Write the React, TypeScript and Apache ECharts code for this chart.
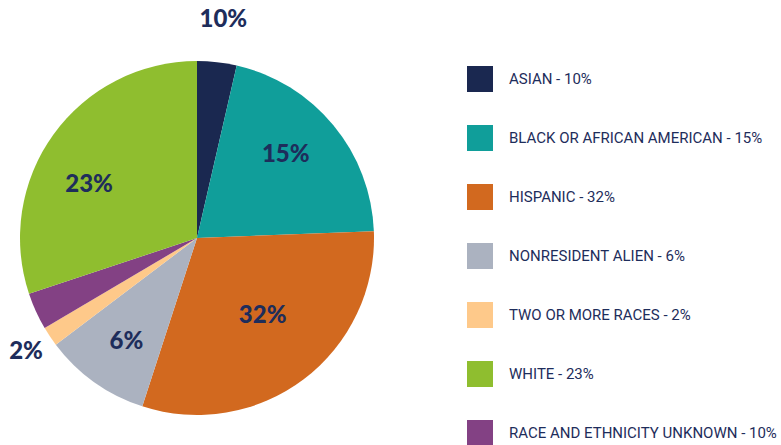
import React, { useEffect, useRef } from "react";
import * as echarts from "echarts";

// Slices in clockwise order from 12 o'clock
const categories = [
  "ASIAN",
  "BLACK OR AFRICAN AMERICAN",
  "HISPANIC",
  "NONRESIDENT ALIEN",
  "TWO OR MORE RACES",
  "RACE AND ETHNICITY UNKNOWN",
  "WHITE",
];
// Visual share of each slice
const sliceShares = [3.6, 20.8, 30.6, 9.7, 1.8, 3.4, 30.1];
// Percentages printed on the chart
const reportedPct = [10, 15, 32, 6, 2, 10, 23];
const sliceColors = ["#1a2850", "#109e9a", "#d2691f", "#abb2c0", "#fec98a", "#834184", "#8fbe2f"];
// Legend order
const legendOrder = [
  "ASIAN",
  "BLACK OR AFRICAN AMERICAN",
  "HISPANIC",
  "NONRESIDENT ALIEN",
  "TWO OR MORE RACES",
  "WHITE",
  "RACE AND ETHNICITY UNKNOWN",
];

const NAVY = "#1e2d5b";
const CX = 197;
const CY = 238;
const R = 177;

// small label nudges (style only)
const nudges: Record<string, [number, number]> = {
  "WHITE": [-5, 19],
  "BLACK OR AFRICAN AMERICAN": [-9, -5],
  "HISPANIC": [3, -7],
  "TWO OR MORE RACES": [8, -8],
  "ASIAN": [2, -6],
  "NONRESIDENT ALIEN": [3, -2],
};

export default function App() {
  const ref = useRef<HTMLDivElement>(null);

  useEffect(() => {
    document.body.style.margin = "0";
    if (!ref.current) return;
    const chart = echarts.init(ref.current, null, { renderer: "svg" });

    const pctOf = (name: string) => reportedPct[categories.indexOf(name)];

    const labelOverlay = (factor: number, shown: string[]) => ({
      type: "pie",
      silent: true,
      center: [CX, CY],
      radius: [0, R * factor * 2],
      startAngle: 90,
      clockwise: true,
      legendHoverLink: false,
      itemStyle: { color: "rgba(0,0,0,0)", borderWidth: 0 },
      labelLine: { show: false },
      emphasis: { disabled: true },
      data: categories.map((c, i) => ({
        name: c,
        value: sliceShares[i],
        label: { show: shown.includes(c) },
      })),
      label: {
        position: "inside",
        formatter: (p: any) => pctOf(p.name) + "%",
        color: NAVY,
        fontFamily: "Lato",
        fontWeight: 900,
        fontSize: 24,
      },
      labelLayout: (p: any) => {
        const n = nudges[categories[p.dataIndex]] || [0, 0];
        return { dx: n[0], dy: n[1] };
      },
    });

    chart.setOption({
      animation: false,
      legend: {
        orient: "vertical",
        left: 467,
        top: 66,
        height: 400,
        padding: 0,
        itemWidth: 26,
        itemHeight: 26,
        itemGap: 33,
        icon: "rect",
        selectedMode: false,
        data: legendOrder,
        formatter: (name: string) => name + " - " + pctOf(name) + "%",
        textStyle: {
          color: NAVY,
          fontFamily: "Roboto",
          fontSize: 15,
          padding: [0, 0, 0, 11],
        },
      },
      series: [
        {
          type: "pie",
          silent: true,
          center: [CX, CY],
          radius: [0, R],
          startAngle: 90,
          clockwise: true,
          label: { show: false },
          labelLine: { show: false },
          itemStyle: { borderWidth: 0 },
          data: categories.map((c, i) => ({
            name: c,
            value: sliceShares[i],
            itemStyle: { color: sliceColors[i] },
          })),
        },
        labelOverlay(0.7, ["BLACK OR AFRICAN AMERICAN", "NONRESIDENT ALIEN", "WHITE"]),
        labelOverlay(0.57, ["HISPANIC"]),
        labelOverlay(1.2, ["ASIAN", "TWO OR MORE RACES"]),
      ],
    });

    return () => chart.dispose();
  }, []);

  return <div ref={ref} style={{ width: 781, height: 445 }} />;
}
